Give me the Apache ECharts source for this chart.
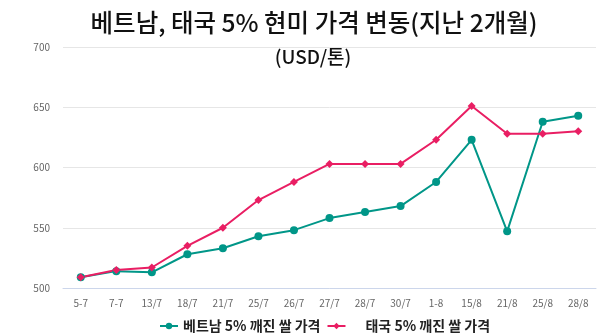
<!DOCTYPE html>
<html><head><meta charset="utf-8">
<script src="https://cdn.jsdelivr.net/npm/echarts@6/dist/echarts.min.js"></script>
<style>html,body{margin:0;padding:0;background:#fff}#c{width:600px;height:335px}</style>
</head><body><div id="c"></div>
<script>
const categories = ['5-7','7-7','13/7','18/7','21/7','25/7','26/7','27/7','28/7','30/7','1-8','15/8','21/8','25/8','28/8'];
const vietnam = [509,514,513,528,533,543,548,558,563,568,588,623,547,638,643];
const thailand = [509,515,517,535,550,573,588,603,603,603,623,651,628,628,630];
const yTicks = [500,550,600,650,700];
const seriesNames = ['베트남 5% 깨진 쌀 가격','태국 5% 깨진 쌀 가격'];

const chart = echarts.init(document.getElementById('c'));
chart.setOption({
  animation:false,
  textStyle:{fontFamily:'"Noto Sans CJK KR","Noto Sans",sans-serif'},
  title:[
    {text:'베트남, 태국 5% 현미 가격 변동(지난 2개월)',left:309,textAlign:'center',top:5,
     textStyle:{fontSize:24.5,fontWeight:500,color:'#111',fontFamily:'"Noto Sans CJK KR",sans-serif'}},
    {text:'(USD/톤)',left:308,textAlign:'center',top:42,
     textStyle:{fontSize:19,fontWeight:500,color:'#111',fontFamily:'"Noto Sans CJK KR",sans-serif'}}
  ],
  grid:{left:63,right:4,top:47,bottom:47},
  legend:{bottom:-3,left:154,itemGap:6,itemWidth:18,itemHeight:8,
    textStyle:{fontSize:14,fontWeight:'bold',color:'#222'},
    data:[{name:seriesNames[0]},{name:seriesNames[1],textStyle:{padding:[0,0,0,15]}}]},
  xAxis:{type:'category',data:categories,boundaryGap:true,
    axisLine:{lineStyle:{color:'#ccd6eb'}},axisTick:{show:false},
    axisLabel:{color:'#666',fontSize:10,margin:10,interval:0}},
  yAxis:{type:'value',min:500,max:700,interval:50,
    axisLine:{show:false},axisTick:{show:false},
    splitLine:{lineStyle:{color:'#e6e6e6'}},
    axisLabel:{color:'#666',fontSize:10,margin:13}},
  series:[
    {name:seriesNames[0],type:'line',data:vietnam,color:'#009688',symbol:'circle',symbolSize:8,
     lineStyle:{width:2}},
    {name:seriesNames[1],type:'line',data:thailand,color:'#e91e63',symbol:'diamond',symbolSize:8,
     lineStyle:{width:2}}
  ]
});
</script></body></html>
